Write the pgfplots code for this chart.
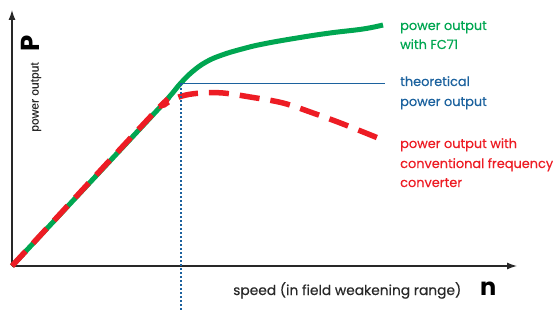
\documentclass[border=0pt]{standalone}
\usepackage{pgfplots}
\pgfplotsset{compat=1.18}
\usepackage{fontspec}
\setmainfont{Poppins}
\newfontfamily\lab{Poppins}[FakeBold=0.5]
\newfontfamily\helv{Liberation Sans}[FakeBold=0.3]
\usetikzlibrary{arrows.meta}
\definecolor{fgreen}{RGB}{0,166,81}
\definecolor{fred}{RGB}{237,28,36}
\definecolor{fblue}{RGB}{28,98,158}
\definecolor{axgray}{RGB}{40,40,40}
\begin{document}
\begin{tikzpicture}
\begin{axis}[width=553pt,height=311pt,scale only axis,
  xmin=-12,xmax=541,ymin=-45,ymax=266,
  axis lines=none, clip=false]
% axes
\draw[axgray, line width=1.3pt, -{Latex[length=10pt,width=7pt]}] (axis cs:0,0) -- (axis cs:505,0);
\draw[axgray, line width=1.3pt, -{Latex[length=10pt,width=7pt]}] (axis cs:0,0) -- (axis cs:0,256);
% green: power output with FC71
\addplot[fgreen, line width=5pt, smooth, tension=0.7] coordinates {
(0,0) (138,148) (158,170) (168,182) (180,194) (194,204) (210,211) (230,217) (251,222) (285,228) (318,233) (351,237) (371,241)};
% red dashed: conventional
\addplot[fred, line width=5.5pt, smooth, tension=0.6, dash pattern=on 20pt off 11pt] coordinates {
(0,0) (140,151) (152,161) (162,167) (174,171) (190,173) (211,173) (238,169) (271,163) (301,153) (331,142) (371,126)};
% blue theoretical
\addplot[fblue, line width=1.8pt] coordinates {(168,182.5) (373,182.5)};
% dotted vertical
\addplot[fblue, line width=2pt, dash pattern=on 2pt off 2pt] coordinates {(169,182) (169,-45)};
% labels
\node[rotate=90, font=\bfseries\fontsize{26}{26}\selectfont, text=black] at (axis cs:18,223) {P};
\node[rotate=90, font=\helv\fontsize{12}{12}\selectfont, text=axgray] at (axis cs:24,169) {power output};
\node[anchor=base west, font=\lab\fontsize{13.8}{14}\selectfont, text=axgray, inner sep=0pt] at (axis cs:221,-29) {speed (in field weakening range)};
\node[anchor=base west, font=\bfseries\fontsize{24}{25}\selectfont, text=black, inner sep=0pt] at (axis cs:468,-29) {n};
\begin{scope}[every node/.style={anchor=base west, inner sep=0pt, font=\lab\fontsize{12.9}{14}\selectfont}]
\node[text=fgreen] at (axis cs:388,236) {power output};
\node[text=fgreen] at (axis cs:388,217) {with FC71};
\node[text=fblue] at (axis cs:388,180) {theoretical};
\node[text=fblue] at (axis cs:388,160) {power output};
\node[text=fred] at (axis cs:388,118) {power output with};
\node[text=fred] at (axis cs:388,98) {conventional frequency};
\node[text=fred] at (axis cs:388,79) {converter};
\end{scope}
\end{axis}
\pgfresetboundingbox
\useasboundingbox (current axis.south west) rectangle (current axis.north east);
\end{tikzpicture}
\end{document}
